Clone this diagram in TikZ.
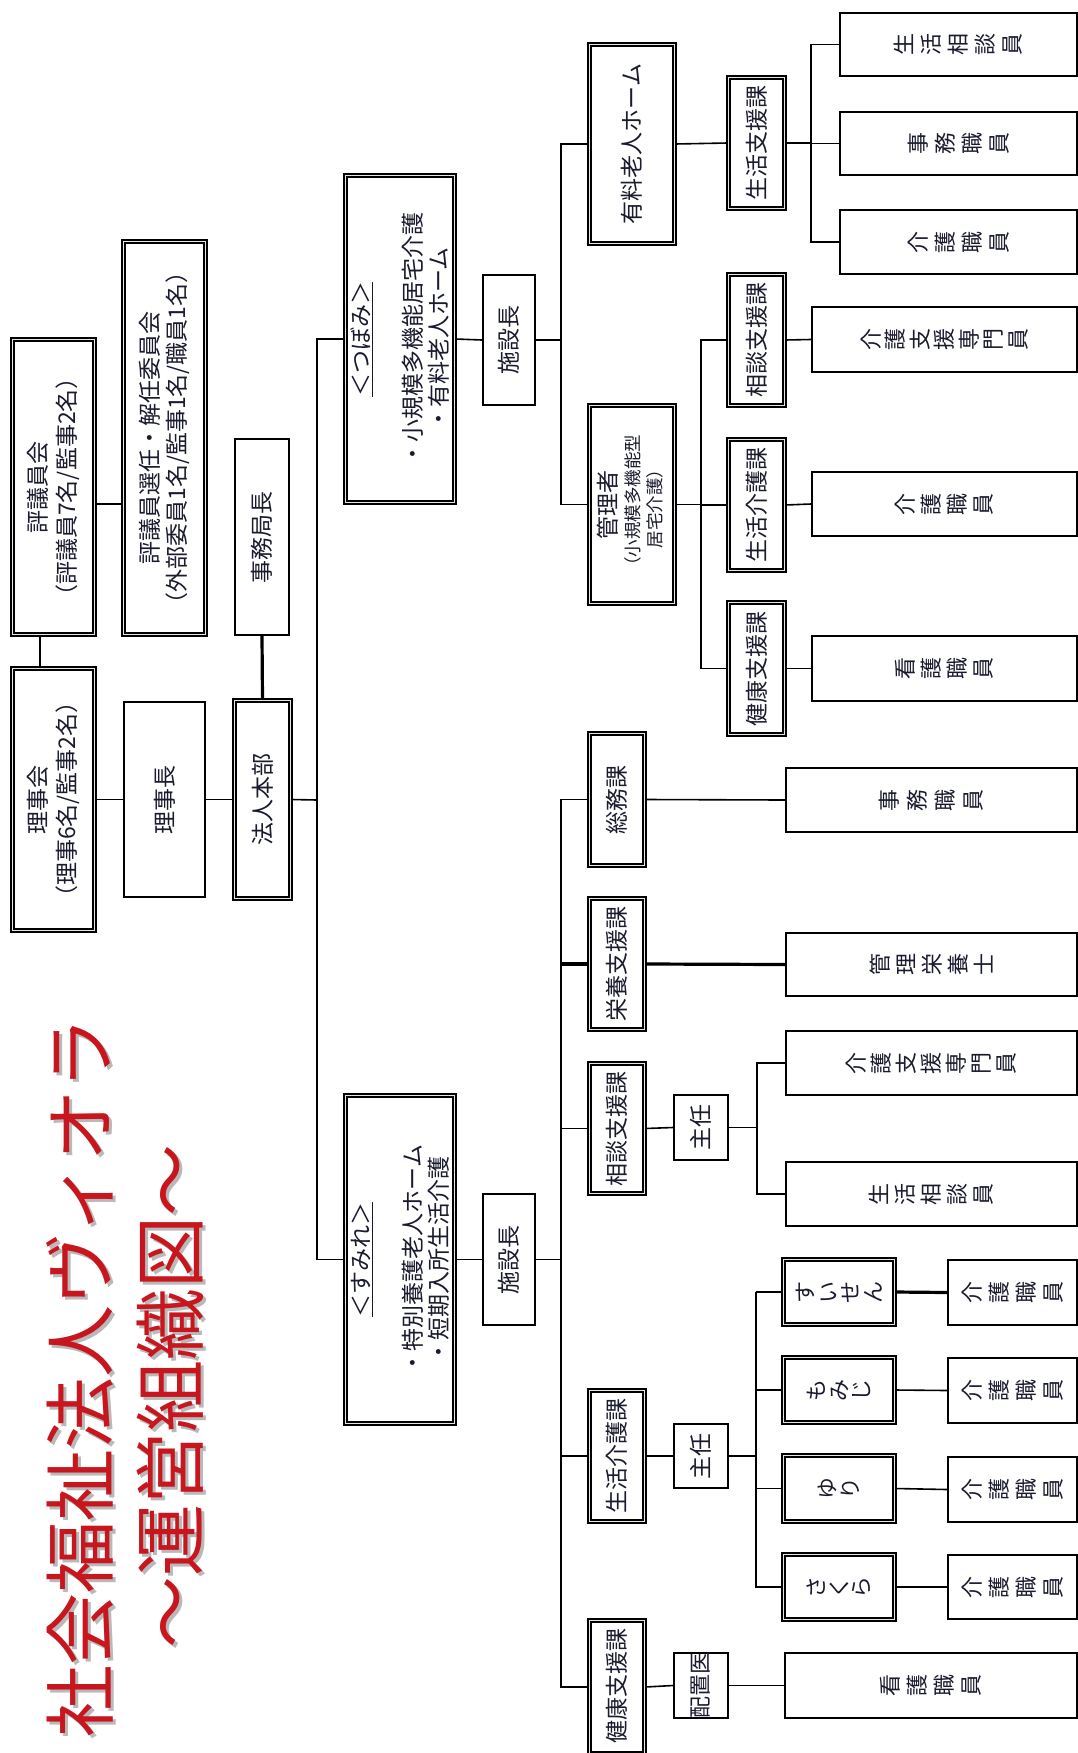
\documentclass[tikz,border=0pt]{standalone}
\usepackage{fontspec}
\setmainfont{Noto Sans CJK JP}
\usetikzlibrary{calc}
\definecolor{txt}{HTML}{1A1B2E}
\definecolor{ttl}{HTML}{C8161E}
\tikzset{
  sbox/.style={draw=black, line width=2pt, fill=white, inner sep=0pt},
  dbox/.style={draw=black, line width=1.6pt, double=gray!20, double distance=1.6pt, fill=white, inner sep=0pt},
  lbl/.style={rotate=90, text=txt, inner sep=0pt, align=center, font=\fontsize{23}{29}\selectfont},
  vlbl/.style={rotate=90, text=txt, inner sep=0pt, align=center, font=\fontsize{22}{27}\selectfont},
  hlbl/.style={rotate=90, text=txt, inner sep=0pt, align=center, font=\fontsize{22}{22.5}\selectfont},
  ttlnode/.style={rotate=90, inner sep=0pt, font=\fontsize{72}{89}\selectfont},
  conn/.style={draw=black, line width=1.6pt, line join=miter},
  mconn/.style={draw=black, line width=2.6pt},
  tconn/.style={draw=black, line width=3.2pt},
}
\newcommand{\bx}[7]{%
  \pgfmathsetmacro\bxw{#6-#4-#2}%
  \pgfmathsetmacro\bxh{#7-#5-#2}%
  \pgfmathsetmacro\bxcx{(#4+#6)/2}%
  \pgfmathsetmacro\bxcy{(#5+#7)/2}%
  \node[#1, minimum width=\bxw pt, minimum height=\bxh pt] (#3) at (\bxcx,\bxcy) {};}
\newcommand{\sbx}{\bx{sbox}{2}}
\newcommand{\dbx}{\bx{dbox}{4.8}}
\begin{document}
\begin{tikzpicture}[x=1pt,y=-1pt]
\useasboundingbox (0,0) rectangle (1078,1753);
\clip (0,0) rectangle (1078,1753);
\fill[white] (0,0) rectangle (1078,1753);

% ---- title ----
\node[ttlnode, text=gray!55] (t1s) at (83,1380) {社会福祉法人ヴィオラ};
\node[ttlnode, text=gray!55] (t2s) at (173,1399) {～運営組織図～};
\node[ttlnode, text=ttl] (title1) at (80,1377) {社会福祉法人ヴィオラ};
\node[ttlnode, text=ttl] (title2) at (170,1396) {～運営組織図～};

% ---- left boxes ----
\dbx{hyogi}{10}{337}{97}{637}
\dbx{senin}{121}{239}{208}{637}
\sbx{jimu}{234}{438}{290}{636}
\dbx{rijikai}{10}{666}{97}{933}
\sbx{rijicho}{123}{701}{206}{898}
\dbx{honbu}{232}{698}{293}{901}

% ---- tsubomi ----
\dbx{tsubomi}{343}{173}{457}{505}
\sbx{sisetsu1}{482}{274}{536}{406}
\dbx{yuryo}{587}{42}{677}{246}
\dbx{kanri}{587}{403}{677}{606}
\dbx{seishien}{726}{75}{787}{211}
\sbx{ta}{839}{12}{1078}{77}
\sbx{tb}{839}{111}{1078}{176}
\sbx{tc}{839}{209}{1078}{275}
\dbx{soudan1}{726}{272}{787}{408}
\dbx{seikai1}{726}{437}{787}{573}
\dbx{kenko1}{726}{600}{787}{737}
\sbx{td}{811}{306}{1078}{373}
\sbx{te}{811}{471}{1078}{537}
\sbx{tf}{811}{635}{1078}{702}

% ---- sumire ----
\dbx{sumire}{343}{1093}{457}{1426}
\sbx{sisetsu2}{482}{1193}{536}{1326}
\dbx{somu}{587}{731}{647}{868}
\sbx{sa}{785}{767}{1078}{833}
\dbx{eiyo}{587}{896}{647}{1032}
\sbx{sb}{785}{932}{1078}{997}
\dbx{soudan2}{587}{1061}{647}{1196}
\sbx{shunin1}{673}{1094}{729}{1161}
\sbx{sc}{785}{1030}{1078}{1096}
\sbx{sd}{785}{1161}{1078}{1227}
\dbx{seikai2}{587}{1388}{647}{1524}
\sbx{shunin2}{673}{1423}{729}{1489}
\dbx{ua}{781}{1257}{897}{1327}
\dbx{ub}{781}{1355}{897}{1425}
\dbx{uc}{781}{1453}{897}{1524}
\dbx{ud}{781}{1552}{897}{1622}
\sbx{ka}{947}{1259}{1078}{1326}
\sbx{kb}{947}{1357}{1078}{1424}
\sbx{kc}{947}{1456}{1078}{1523}
\sbx{kd}{947}{1554}{1078}{1620}
\dbx{kenko2}{587}{1618}{647}{1756}
\sbx{haichi}{673}{1652}{729}{1719}
\sbx{se}{784}{1652}{1078}{1719}

% ---- connectors ----
\coordinate (hs) at ([yshift=-17pt]hyogi.east);
\draw[conn] (hs) -- (hs -| senin.west);
\coordinate (hr) at ([xshift=-13.5pt]hyogi.south);
\draw[conn] (hr) -- (hr |- rijikai.north);
\draw[conn] (rijikai.east) -- (rijicho.west);
\draw[conn] (rijicho.east) -- (honbu.west);
\draw[tconn] (jimu.south) -- (honbu.north);
\coordinate (tk) at (317,800);
\draw[conn] (honbu.east) -- (tk);
\draw[conn] (tsubomi.west) -- (tsubomi.west -| tk) -- (sumire.west -| tk) -- (sumire.west);
\draw[conn] (tsubomi.east) -- (sisetsu1.west);
\coordinate (b1) at (561,0);
\draw[conn] (sisetsu1.east) -- (sisetsu1.east -| b1);
\draw[conn] (yuryo.west) -- (yuryo.west -| b1) -- (kanri.west -| b1) -- (kanri.west);
\draw[conn] (yuryo.east) -- (seishien.west);
\coordinate (b2) at (811,0);
\draw[conn] (seishien.east) -- (seishien.east -| b2);
\draw[conn] (ta.west) -- (ta.west -| b2) -- (tc.west -| b2) -- (tc.west);
\draw[conn] (tb.west -| b2) -- (tb.west);
\coordinate (b3) at (701,0);
\draw[conn] (kanri.east) -- (kanri.east -| b3);
\draw[conn] (soudan1.west) -- (soudan1.west -| b3) -- (kenko1.west -| b3) -- (kenko1.west);
\draw[conn] (seikai1.west -| b3) -- (seikai1.west);
\draw[conn] (soudan1.east) -- (td.west);
\draw[conn] (seikai1.east) -- (te.west);
\draw[conn] (kenko1.east) -- (tf.west);

\draw[conn] (sumire.east) -- (sisetsu2.west);
\draw[conn] (sisetsu2.east) -- (sisetsu2.east -| b1);
\draw[conn] (somu.west) -- (somu.west -| b1) -- (kenko2.west -| b1) -- (kenko2.west);
\draw[tconn] (eiyo.west -| b1) -- (eiyo.west);
\draw[conn] (soudan2.west -| b1) -- (soudan2.west);
\draw[conn] (seikai2.west -| b1) -- (seikai2.west);
\draw[conn] (somu.east) -- (sa.west);
\draw[tconn] (eiyo.east) -- (sb.west);
\draw[conn] (soudan2.east) -- (shunin1.west);
\coordinate (b4) at (757,0);
\draw[conn] (shunin1.east) -- (shunin1.east -| b4);
\draw[conn] (sc.west) -- (sc.west -| b4) -- (sd.west -| b4) -- (sd.west);
\draw[conn] (seikai2.east) -- (shunin2.west);
\coordinate (b5) at (756,0);
\draw[conn] (shunin2.east) -- (shunin2.east -| b5);
\draw[conn] (ua.west -| b5) -- (ud.west -| b5) -- (ud.west);
\draw[mconn] (ua.west -| b5) -- (ua.west);
\draw[conn] (ub.west -| b5) -- (ub.west);
\draw[conn] (uc.west -| b5) -- (uc.west);
\draw[tconn] (ua.east) -- (ka.west);
\draw[conn] (ub.east) -- (kb.west);
\draw[conn] (uc.east) -- (kc.west);
\draw[conn] (ud.east) -- (kd.west);
\draw[conn] (kenko2.east) -- (haichi.west);
\draw[conn] (haichi.east) -- (se.west);

% ---- labels ----
\node[lbl] at (hyogi) {評議員会\\（評議員7名/監事2名）};
\node[lbl, font=\fontsize{23}{27}\selectfont] at (senin) {評議員選任・解任委員会\\（外部委員1名/監事1名/職員1名）};
\node[lbl] at (jimu) {事務局長};
\node[lbl] at (rijikai) {理事会\\（理事6名/監事2名）};
\node[lbl] at (rijicho) {理事長};
\node[lbl] at (honbu) {法人本部};

\node[lbl, font=\fontsize{23}{26}\selectfont] at (tsubomi) {\underline{＜つぼみ＞}\\[26pt]・小規模多機能居宅介護\\・有料老人ホーム};
\node[lbl] at (sisetsu1) {施設長};
\node[lbl] at (yuryo) {有料老人ホーム};
\node[lbl] at ([xshift=-24pt]kanri.center) {管理者};
\node[lbl, font=\fontsize{17.5}{20}\selectfont] at ([xshift=1pt]kanri.center) {（小規模多機能型};
\node[lbl, font=\fontsize{17.5}{20}\selectfont] at ([xshift=23pt]kanri.center) {居宅介護）};
\node[lbl] at (seishien) {生活支援課};
\node[vlbl] at (ta) {生\\活\\相\\談\\員};
\node[vlbl] at (tb) {事\\務\\職\\員};
\node[vlbl] at (tc) {介\\護\\職\\員};
\node[lbl] at (soudan1) {相談支援課};
\node[lbl] at (seikai1) {生活介護課};
\node[lbl] at (kenko1) {健康支援課};
\node[vlbl, font=\fontsize{22}{24.5}\selectfont] at (td) {介\\護\\支\\援\\専\\門\\員};
\node[vlbl, font=\fontsize{22}{26}\selectfont] at (te) {介\\護\\職\\員};
\node[vlbl, font=\fontsize{22}{26}\selectfont] at (tf) {看\\護\\職\\員};

\node[lbl, font=\fontsize{23}{26}\selectfont] at (sumire) {\underline{＜すみれ＞}\\[26pt]・特別養護老人ホーム\\・短期入所生活介護};
\node[lbl] at (sisetsu2) {施設長};
\node[lbl] at (somu) {総務課};
\node[vlbl, font=\fontsize{22}{28}\selectfont] at (sa) {事\\務\\職\\員};
\node[lbl] at (eiyo) {栄養支援課};
\node[vlbl, font=\fontsize{22}{26}\selectfont] at (sb) {管\\理\\栄\\養\\士};
\node[lbl] at (soudan2) {相談支援課};
\node[lbl] at (shunin1) {主任};
\node[vlbl, font=\fontsize{22}{25}\selectfont] at (sc) {介\\護\\支\\援\\専\\門\\員};
\node[vlbl, font=\fontsize{22}{26}\selectfont] at (sd) {生\\活\\相\\談\\員};
\node[lbl] at (seikai2) {生活介護課};
\node[lbl] at (shunin2) {主任};
\node[hlbl] at (ua) {す\\い\\せ\\ん};
\node[hlbl] at (ub) {も\\み\\じ};
\node[hlbl] at (uc) {ゆ\\り};
\node[hlbl] at (ud) {さ\\く\\ら};
\node[vlbl] at (ka) {介\\護\\職\\員};
\node[vlbl] at (kb) {介\\護\\職\\員};
\node[vlbl] at (kc) {介\\護\\職\\員};
\node[vlbl] at (kd) {介\\護\\職\\員};
\node[lbl] at ([yshift=1pt]kenko2.center) {健康支援課};
\node[lbl, font=\fontsize{22}{22}\selectfont] at (haichi) {配置医};
\node[vlbl] at (se) {看\\護\\職\\員};
\end{tikzpicture}
\end{document}
